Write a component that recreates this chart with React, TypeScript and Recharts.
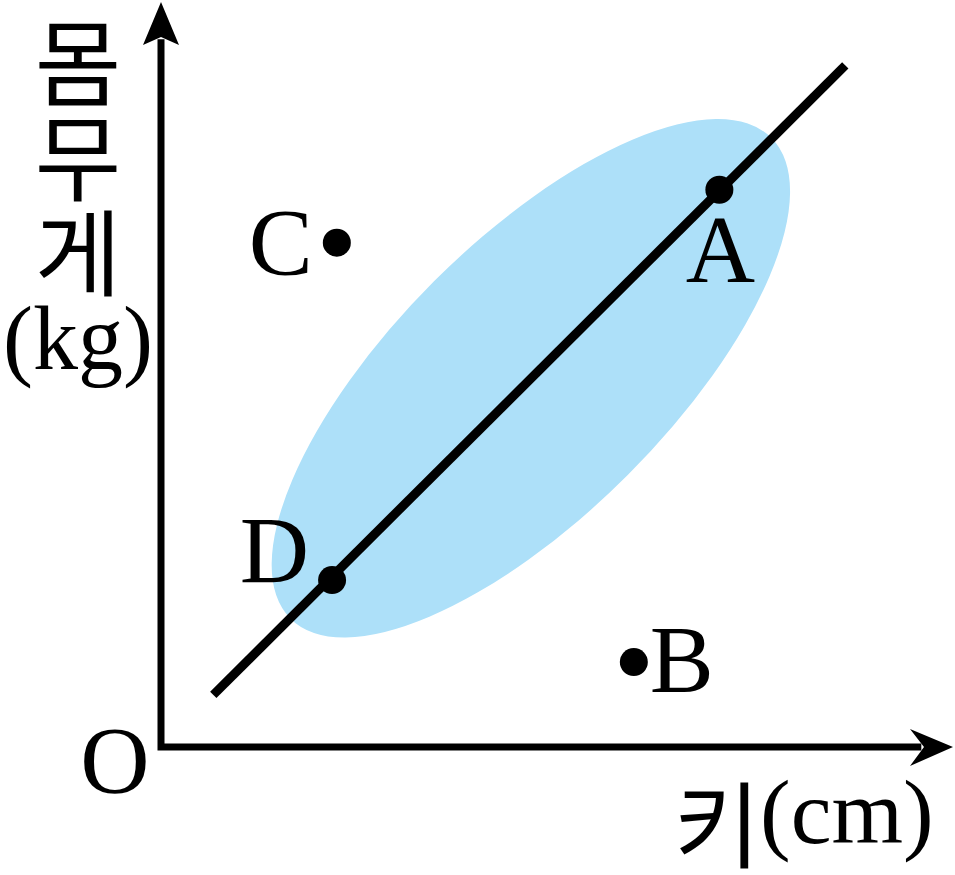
import { ComposedChart, Scatter, XAxis, YAxis, ReferenceDot } from 'recharts';

// points on the scatter diagram (height, weight in relative units)
const pointNames = ['A', 'B', 'C', 'D'];
const heights = [70.5, 59.7, 22.2, 21.6];
const weights = [74.8, 11.4, 67.7, 22.4];

// trend line ends
const trendX = [6.6, 86.4];
const trendY = [7.0, 91.5];

// centre of the shaded cluster
const clusterX = [46.7];
const clusterY = [49.5];

// axes polyline (y-axis top -> origin -> x-axis end)
const axisX = [0, 0, 96];
const axisY = [95, 0, 0];

const points = pointNames.map((name, i) => ({ name, x: heights[i], y: weights[i] }));
const trend = trendX.map((x, i) => ({ x, y: trendY[i] }));
const cluster = clusterX.map((x, i) => ({ x, y: clusterY[i] }));
const axes = axisX.map((x, i) => ({ x, y: axisY[i] }));

const SERIF = "'Liberation Serif', 'DejaVu Serif', serif";
const KR = "'Noto Sans CJK KR', sans-serif";

const labelPlace: Record<string, { dx: number; dy: number; anchor: 'start' | 'middle' | 'end' }> = {
  A: { dx: 1, dy: 92, anchor: 'middle' },
  B: { dx: 16, dy: 30, anchor: 'start' },
  C: { dx: -24, dy: 32, anchor: 'end' },
  D: { dx: -23, dy: 3, anchor: 'end' },
};

function PointShape(props: any) {
  const { cx, cy, payload } = props;
  const p = labelPlace[payload.name];
  return (
    <g>
      <circle cx={cx} cy={cy} r={14} fill="#000" />
      <text x={cx + p.dx} y={cy + p.dy} textAnchor={p.anchor} fontFamily={SERIF} fontSize={96} fill="#000">
        {payload.name}
      </text>
    </g>
  );
}

function ClusterShape(props: any) {
  const { cx, cy } = props;
  return <ellipse cx={cx} cy={cy} rx={340} ry={137} fill="#ade0f9" transform={`rotate(-45 ${cx} ${cy})`} />;
}

const NoDot = () => <g />;

function XArrow(props: any) {
  const { cx, cy } = props;
  return (
    <g>
      <polygon points={`${cx},${cy} ${cx - 43},${cy - 18} ${cx - 29},${cy} ${cx - 43},${cy + 19}`} fill="#000" />
      <text x={cx - 236} y={cy + 73} textAnchor="middle" dominantBaseline="central" fontFamily={KR} fontSize={94} fill="#000">
        키
      </text>
      <text x={cx - 193} y={cy + 96} fontFamily={SERIF} fontSize={92} fill="#000">
        (cm)
      </text>
    </g>
  );
}

function YArrow(props: any) {
  const { cx, cy } = props;
  const tx = cx - 83;
  return (
    <g>
      <polygon points={`${cx},${cy} ${cx + 18},${cy + 43} ${cx},${cy + 35} ${cx - 18},${cy + 43}`} fill="#000" />
      {['몸', '무', '게'].map((ch, i) => (
        <text key={ch} x={tx} y={cy + 56 + i * 95} textAnchor="middle" dominantBaseline="central" fontFamily={KR} fontSize={94} fill="#000">
          {ch}
        </text>
      ))}
      <text x={tx} y={cy + 367} textAnchor="middle" fontFamily={SERIF} fontSize={90} fill="#000">
        (kg)
      </text>
    </g>
  );
}

function Origin(props: any) {
  const { cx, cy } = props;
  return (
    <text x={cx - 46} y={cy + 46} textAnchor="middle" fontFamily={SERIF} fontSize={96} fill="#000">
      O
    </text>
  );
}

export default function App() {
  return (
    <div style={{ position: 'absolute', left: 0, top: 0, width: 955, height: 875, background: '#fff' }}>
      <ComposedChart width={955} height={875} margin={{ top: 2, right: 2, bottom: 128, left: 161 }}>
        <XAxis type="number" dataKey="x" domain={[0, 100]} hide />
        <YAxis type="number" dataKey="y" domain={[0, 100]} hide />
        <Scatter data={cluster} shape={ClusterShape} isAnimationActive={false} />
        <Scatter
          data={axes}
          shape={NoDot}
          line={{ stroke: '#000', strokeWidth: 7, strokeLinejoin: 'miter', fill: 'none' }}
          lineType="joint"
          isAnimationActive={false}
        />
        <Scatter
          data={trend}
          shape={NoDot}
          line={{ stroke: '#000', strokeWidth: 9, fill: 'none' }}
          lineType="joint"
          isAnimationActive={false}
        />
        <Scatter data={points} shape={PointShape} isAnimationActive={false} />
        <ReferenceDot x={100} y={0} r={0} shape={XArrow} />
        <ReferenceDot x={0} y={100} r={0} shape={YArrow} />
        <ReferenceDot x={0} y={0} r={0} shape={Origin} />
      </ComposedChart>
    </div>
  );
}
